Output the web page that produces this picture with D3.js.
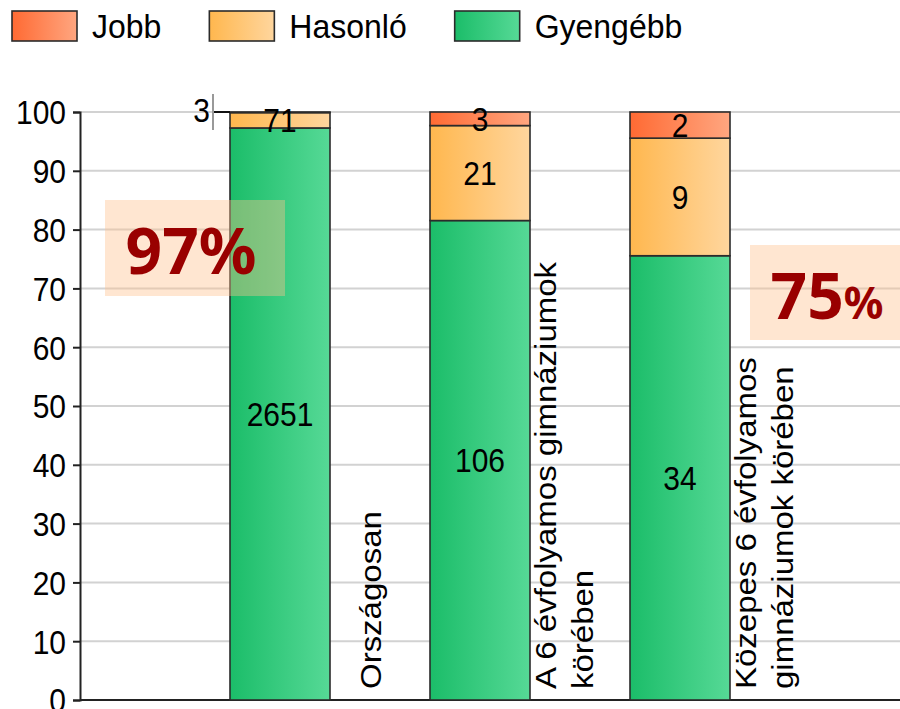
<!DOCTYPE html>
<html>
<head>
<meta charset="utf-8">
<script src="https://cdn.jsdelivr.net/npm/d3@7"></script>
<style>
  body { margin: 0; background: #fff; }
  text { font-family: "Liberation Sans", Arial, sans-serif; fill: #000; }
</style>
</head>
<body>
<div id="chart"></div>
<script>
const width = 900;
const height = 709;
const margin = { left: 80, right: 0, top: 112, bottom: 9 };
const stretch = 1.1; // the picture is a bit taller than the font

// data
const categories = ['Országosan', 'A 6 évfolyamos gimnáziumok körében', 'Közepes 6 évfolyamos gimnáziumok körében'];
const category_lines = [['Országosan'], ['A 6 évfolyamos gimnáziumok', 'körében'], ['Közepes 6 évfolyamos', 'gimnáziumok körében']];
const series = ['Gyengébb', 'Hasonló', 'Jobb'];
const legend_order = ['Jobb', 'Hasonló', 'Gyengébb'];
const gyengebb = [2651, 106, 34];
const hasonlo = [71, 21, 9];
const jobb = [3, 3, 2];
const y_ticks = [0, 10, 20, 30, 40, 50, 60, 70, 80, 90, 100];
const notes = ['97%', '75%'];

const colors = {
  'Jobb': ['#ff6a33', '#ffa680'],
  'Hasonló': ['#ffb74e', '#ffd69e'],
  'Gyengébb': ['#1bbd69', '#56d996']
};

const rows = categories.map((c, i) => ({ category: c, 'Gyengébb': gyengebb[i], 'Hasonló': hasonlo[i], 'Jobb': jobb[i] }));
const stacked = d3.stack().keys(series).offset(d3.stackOffsetExpand)(rows);

const x_scale = d3.scaleBand()
  .domain(categories)
  .range([180, 780])
  .paddingInner(0.5)
  .paddingOuter(0.25);
const y_scale = d3.scaleLinear()
  .domain([0, 100])
  .range([height - margin.bottom, margin.top]);

const svg = d3.select('#chart')
  .append('svg')
    .attr('width', width)
    .attr('height', height);

const defs = svg.append('defs');
Object.keys(colors).forEach((k, i) => {
  const g = defs.append('linearGradient')
    .attr('id', 'grad' + i)
    .attr('x1', 0).attr('x2', 1).attr('y1', 0).attr('y2', 0);
  g.append('stop').attr('offset', 0).attr('stop-color', colors[k][0]);
  g.append('stop').attr('offset', 1).attr('stop-color', colors[k][1]);
});
const fill_of = key => 'url(#grad' + Object.keys(colors).indexOf(key) + ')';

// grid
svg.append('g')
  .selectAll('line')
  .data(y_ticks.filter(d => d > 0))
  .join('line')
    .attr('x1', margin.left)
    .attr('x2', width)
    .attr('y1', d => y_scale(d))
    .attr('y2', d => y_scale(d))
    .attr('stroke', '#d2d2d2')
    .attr('stroke-width', 2);

// y axis
const y_axis = svg.append('g')
  .attr('transform', `translate(${margin.left},0)`)
  .call(d3.axisLeft(y_scale).tickValues(y_ticks).tickSize(7).tickPadding(7));
y_axis.select('.domain').attr('stroke', '#222').attr('stroke-width', 2);
y_axis.selectAll('.tick line').attr('stroke', '#222').attr('stroke-width', 2);
y_axis.selectAll('.tick text')
  .attr('font-size', 30)
  .attr('font-family', '"Liberation Sans", Arial, sans-serif')
  .attr('fill', '#000')
  .attr('dy', '0.36em')
  .attr('x', null)
  .attr('transform', d => `translate(-14,0) scale(1,${stretch})`);

// bottom line
svg.append('line')
  .attr('x1', margin.left)
  .attr('x2', width)
  .attr('y1', y_scale(0))
  .attr('y2', y_scale(0))
  .attr('stroke', '#222')
  .attr('stroke-width', 2);

// bars
const layers = svg.append('g')
  .selectAll('g')
  .data(stacked)
  .join('g')
    .attr('fill', d => fill_of(d.key));
layers.selectAll('rect')
  .data(d => d)
  .join('rect')
    .attr('x', d => x_scale(d.data.category))
    .attr('width', x_scale.bandwidth())
    .attr('y', d => y_scale(d[1] * 100))
    .attr('height', d => y_scale(d[0] * 100) - y_scale(d[1] * 100))
    .attr('stroke', '#2b2b2b')
    .attr('stroke-width', 1.6);

// value labels
stacked.forEach(layer => {
  layer.forEach(d => {
    const share = (d[1] - d[0]) * 100;
    const value = d.data[layer.key];
    const left = x_scale(d.data.category);
    if (share < 1) {
      const yy = y_scale(d[1] * 100);
      svg.append('line')
        .attr('x1', left - 17).attr('x2', left)
        .attr('y1', yy).attr('y2', yy)
        .attr('stroke', '#111').attr('stroke-width', 2);
      svg.append('line')
        .attr('x1', left - 17).attr('x2', left - 17)
        .attr('y1', yy - 18).attr('y2', yy + 18)
        .attr('stroke', '#999').attr('stroke-width', 2);
      svg.append('text')
        .attr('text-anchor', 'end')
        .attr('font-size', 30)
        .attr('dy', '0.36em')
        .attr('transform', `translate(${left - 20},${yy - 2}) scale(1,${stretch})`)
        .text(value);
    } else {
      const mid = y_scale((d[0] + d[1]) / 2 * 100);
      svg.append('text')
        .attr('text-anchor', 'middle')
        .attr('font-size', 30)
        .attr('dy', '0.36em')
        .attr('transform', `translate(${left + x_scale.bandwidth() / 2},${mid}) scale(1,${stretch})`)
        .text(value);
    }
  });
});

// category labels, rotated, in the gap right of each bar
const line_gap = 37;
category_lines.forEach((lines, i) => {
  const gap_center = x_scale(categories[i]) + x_scale.bandwidth() + (x_scale.step() - x_scale.bandwidth()) / 2;
  lines.forEach((ln, j) => {
    const bx = gap_center + 1 + (j - (lines.length - 1) / 2) * line_gap - (lines.length - 1) * 7;
    svg.append('text')
      .attr('font-size', 30)
      .attr('transform', `translate(${bx},${height - 20}) scale(1,${stretch}) rotate(-90)`)
      .text(ln);
  });
});

// legend
const legend = svg.append('g').attr('transform', 'translate(12,11)');
let lx = 0;
legend_order.forEach(key => {
  const item = legend.append('g').attr('transform', `translate(${lx},0)`);
  item.append('rect')
    .attr('width', 65).attr('height', 30)
    .attr('fill', fill_of(key))
    .attr('stroke', '#2b2b2b').attr('stroke-width', 1.6);
  const t = item.append('text')
    .attr('font-size', 32)
    .attr('dy', '0.36em')
    .attr('transform', `translate(80,15) scale(1,1.04)`)
    .text(key);
  lx += 80 + t.node().getComputedTextLength() + 48;
});

// highlight boxes
const boxes = [
  { text: notes[0], x: 105, y: 200, w: 180, h: 96, small_pct: false },
  { text: notes[1], x: 750, y: 245, w: 150, h: 95, small_pct: true }
];
boxes.forEach(b => {
  svg.append('rect')
    .attr('x', b.x).attr('y', b.y)
    .attr('width', b.w).attr('height', b.h)
    .attr('fill', 'rgb(255,192,140)')
    .attr('fill-opacity', 0.4);
  const t = svg.append('text')
    .attr('text-anchor', 'middle')
    .attr('transform', `translate(${b.x + b.w / 2 + (b.small_pct ? 2 : -4)},${b.y + b.h / 2 + 26})`)
    .style('font-family', '"Noto Sans", "Open Sans", sans-serif')
    .style('font-weight', 'bold')
    .style('font-size', '64px')
    .style('fill', '#990000');
  const num = b.text.replace('%', '');
  t.append('tspan').text(num);
  t.append('tspan').style('font-size', b.small_pct ? '44px' : '64px').text('%');
});
</script>
</body>
</html>
